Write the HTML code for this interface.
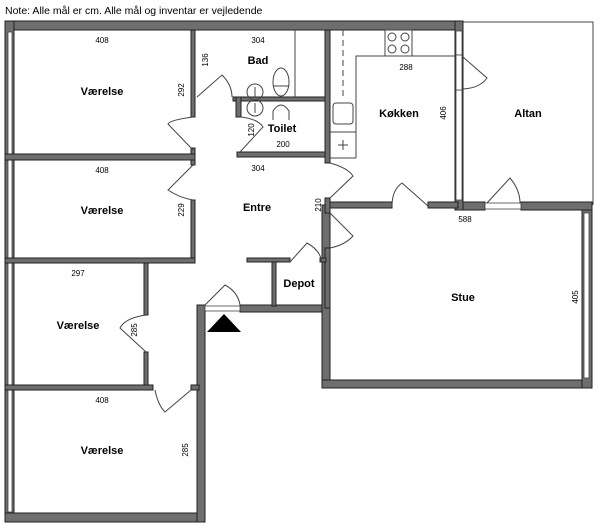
<!DOCTYPE html>
<html><head><meta charset="utf-8"><style>
body{margin:0;background:#fff}
svg{display:block}
text{font-family:"Liberation Sans",sans-serif;fill:#000}
.w{fill:#6e6e6e;stroke:#222;stroke-width:1}
.t{stroke:#444;stroke-width:1;fill:none}
.b{font-weight:bold;font-size:11px}
.s{font-size:8px}
</style></head><body>
<svg width="600" height="529" viewBox="0 0 600 529">
<text x="5" y="14" font-size="10.5">Note: Alle mål er cm. Alle mål og inventar er vejledende</text>
<!-- altan thin outline -->
<path class="t" d="M463 22 H593 V205"/>
<!-- outer walls -->
<rect class="w" x="5" y="21" width="458" height="9"/>
<rect class="w" x="5" y="21" width="9" height="501"/>
<rect class="w" x="5" y="513" width="200" height="9"/>
<rect class="w" x="197" y="305" width="8" height="217"/>
<rect class="w" x="240" y="305" width="90" height="7"/>
<rect class="w" x="322" y="205" width="8" height="183"/>
<rect class="w" x="322" y="380" width="270" height="8"/>
<rect class="w" x="582" y="202" width="10" height="186"/>
<rect class="w" x="455" y="202" width="30" height="8"/>
<rect class="w" x="521" y="202" width="71" height="8"/>
<rect class="w" x="455" y="21" width="8" height="189"/>
<!-- windows -->
<rect x="8" y="32" width="4" height="480" fill="#fff" stroke="#444" stroke-width="0.8"/>
<rect x="584" y="213" width="5" height="165" fill="#fff" stroke="#444" stroke-width="0.8"/>
<rect x="456" y="31" width="6" height="24" fill="#fff" stroke="#444" stroke-width="0.8"/>
<rect x="456" y="90" width="6" height="110" fill="#fff" stroke="#444" stroke-width="0.8"/>
<rect x="456" y="55" width="6" height="35" fill="#fff" stroke="#444" stroke-width="0.8"/>
<rect x="485" y="203" width="36" height="6" fill="#fff" stroke="#444" stroke-width="0.8"/>
<rect x="205" y="306" width="35" height="5" fill="#fff" stroke="#444" stroke-width="0.8"/>
<!-- interior walls -->
<rect class="w" x="191" y="30" width="4" height="87"/>
<rect class="w" x="191" y="148" width="4" height="17"/>
<rect class="w" x="191" y="200" width="4" height="62"/>
<rect class="w" x="5" y="154" width="190" height="6"/>
<rect class="w" x="5" y="258" width="190" height="5"/>
<rect class="w" x="144" y="263" width="4" height="52"/>
<rect class="w" x="144" y="352" width="4" height="36"/>
<rect class="w" x="5" y="385" width="148" height="5"/>
<rect class="w" x="191" y="385" width="8" height="5"/>
<rect class="w" x="233" y="97" width="94" height="4"/>
<rect class="w" x="236" y="97" width="5" height="20"/>
<rect class="w" x="237" y="152" width="90" height="5"/>
<rect class="w" x="325" y="30" width="5" height="133"/>
<rect class="w" x="325" y="198" width="5" height="15"/>
<rect class="w" x="325" y="248" width="5" height="60"/>
<rect class="w" x="330" y="202" width="62" height="6"/>
<rect class="w" x="428" y="202" width="30" height="6"/>
<rect class="w" x="247" y="258" width="43" height="4"/>
<rect class="w" x="320" y="258" width="6" height="4"/>
<rect class="w" x="272" y="262" width="4" height="44"/>
<!-- doors -->
<g class="t">
<path d="M193 117 Q170 120 168 124 L193 150"/>
<path d="M193 165 L168 190 Q180 198 193 200"/>
<path d="M197 97 L222 75 Q232 85 232 97"/>
<path d="M241 117 Q258 119 263 127 L240 152"/>
<path d="M330 163 Q348 168 353 176 L330 198"/>
<path d="M330 213 L353 236 Q345 245 330 248"/>
<path d="M392 206 Q392 190 402 183 L428 206"/>
<path d="M463 57 L487 78 Q480 88 463 89"/>
<path d="M487 203 L510 178 Q520 190 520 203"/>
<path d="M290 262 L307 243 Q320 250 322 262"/>
<path d="M146 315 Q125 318 120 328 L146 352"/>
<path d="M155 390 Q158 405 165 412 L191 390"/>
<path d="M205 305 L225 285 Q238 292 240 305"/>
<!-- bath fixtures -->
<path d="M295 30 V97"/>
<ellipse cx="281" cy="82" rx="8" ry="14"/>
<path d="M273 86 H289"/>
<circle cx="255" cy="92" r="8"/><path d="M255 87 V97"/>
<circle cx="255" cy="108" r="8"/><path d="M255 103 V113"/>
<path d="M273 120 V111 Q281 99 289 111 V120"/>
<!-- kitchen -->
<path d="M343 30 V100" stroke-dasharray="6,4"/>
<path d="M356 158 V56 H455"/>
<path d="M330 158 H356 M330 132 H356"/>
<rect x="333" y="103" width="20" height="21" rx="3"/>
<rect x="385" y="30" width="27" height="26"/>
<circle cx="392" cy="37" r="4"/><circle cx="405" cy="37" r="4"/>
<circle cx="392" cy="49" r="4"/><circle cx="405" cy="49" r="4"/>
<path d="M338 145 H348 M343 140 V150"/>
</g>
<polygon points="207,332 224,314 241,332" fill="#000"/>
<!-- labels -->
<g text-anchor="middle">
<text class="b" x="102" y="95">Værelse</text>
<text class="b" x="102" y="214">Værelse</text>
<text class="b" x="78" y="329">Værelse</text>
<text class="b" x="102" y="454">Værelse</text>
<text class="b" x="258" y="64">Bad</text>
<text class="b" x="282" y="132">Toilet</text>
<text class="b" x="257" y="211">Entre</text>
<text class="b" x="399" y="117">Køkken</text>
<text class="b" x="528" y="117">Altan</text>
<text class="b" x="299" y="287">Depot</text>
<text class="b" x="463" y="301">Stue</text>
<text class="s" x="102" y="43">408</text>
<text class="s" x="102" y="173">408</text>
<text class="s" x="78" y="276">297</text>
<text class="s" x="102" y="403">408</text>
<text class="s" x="258" y="43">304</text>
<text class="s" x="283" y="147">200</text>
<text class="s" x="258" y="171">304</text>
<text class="s" x="406" y="70">288</text>
<text class="s" x="465" y="222">588</text>
<text class="s" transform="translate(208,60) rotate(-90)">136</text>
<text class="s" transform="translate(184,90) rotate(-90)">292</text>
<text class="s" transform="translate(184,210) rotate(-90)">229</text>
<text class="s" transform="translate(254,130) rotate(-90)">120</text>
<text class="s" transform="translate(321,205) rotate(-90)">210</text>
<text class="s" transform="translate(446,113) rotate(-90)">406</text>
<text class="s" transform="translate(137,330) rotate(-90)">285</text>
<text class="s" transform="translate(188,450) rotate(-90)">285</text>
<text class="s" transform="translate(578,297) rotate(-90)">405</text>
</g>
</svg>
</body></html>
